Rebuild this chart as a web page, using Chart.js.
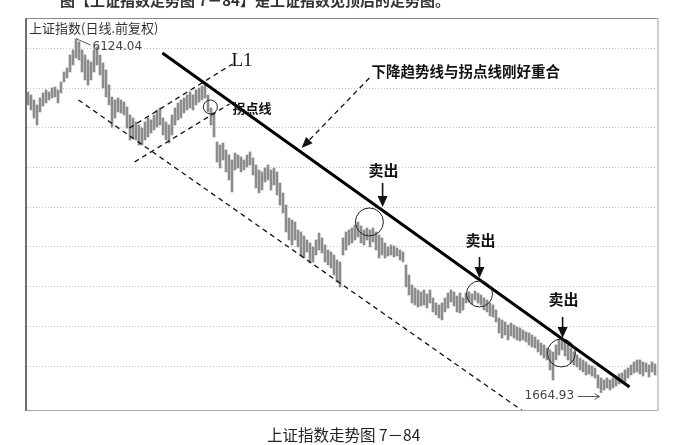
<!DOCTYPE html>
<html>
<head>
<meta charset="utf-8">
<script src="https://cdn.jsdelivr.net/npm/chart.js@4/dist/chart.umd.min.js"></script>
<style>
  html, body { margin: 0; padding: 0; background: #fff; }
  #chart { display: block; }
</style>
</head>
<body>
<canvas id="chart" width="680" height="445"></canvas>
<script>
// daily high / low of the Shanghai Composite (one value per session)
const highs = [
  5453, 5415, 5352, 5289, 5377, 5440, 5478, 5453, 5503, 5516,
  5478, 5579, 5705, 5755, 5919, 5982, 6124, 6083, 5982, 5919,
  5856, 5831, 5982, 6020, 5919, 5818, 5730, 5541, 5390, 5352,
  5377, 5352, 5327, 5264, 5163, 5125, 5075, 5037, 4999, 5075,
  5125, 5100, 5163, 5226, 5251, 5125, 5075, 5037, 5163, 5251,
  5314, 5352, 5377, 5415, 5453, 5415, 5478, 5503, 5528, 5541,
  5415, 5251, 5188, 4823, 4785, 4810, 4722, 4659, 4596, 4684,
  4659, 4634, 4596, 4659, 4697, 4621, 4533, 4470, 4445, 4495,
  4533, 4470, 4495, 4445, 4306, 4180, 4029, 3865, 3840, 3815,
  3714, 3689, 3638, 3588, 3550, 3500, 3588, 3676, 3613, 3525,
  3462, 3437, 3399, 3336, 3311, 3613, 3689, 3714, 3739, 3777,
  3815, 3764, 3714, 3739, 3714, 3739, 3689, 3651, 3613, 3550,
  3500, 3525, 3512, 3487, 3462, 3437, 3273, 3147, 3021, 2983,
  2958, 2933, 2958, 2908, 2958, 2857, 2794, 2769, 2794, 2857,
  2920, 2958, 2933, 2882, 2920, 2857, 2920, 2933, 2908, 2945,
  2920, 2895, 2857, 2832, 2794, 2769, 2706, 2605, 2580, 2555,
  2517, 2542, 2517, 2492, 2479, 2454, 2429, 2416, 2391, 2366,
  2328, 2290, 2265, 2227, 2202, 2177, 2265, 2328, 2353, 2328,
  2265, 2227, 2177, 2139, 2101, 2076, 2051, 2013, 2000, 1975,
  1887, 1849, 1824, 1849, 1824, 1849, 1874, 1900, 1912, 1950,
  1975, 2013, 2051, 2076, 2076, 2051, 2038, 2013, 2051, 2026
];
const lows = [
  5289, 5226, 5125, 5037, 5201, 5276, 5314, 5352, 5377, 5390,
  5314, 5440, 5579, 5629, 5705, 5793, 5881, 5856, 5705, 5604,
  5541, 5604, 5705, 5793, 5667, 5503, 5390, 5289, 5012, 5125,
  5201, 5188, 5163, 4999, 4848, 4873, 4848, 4785, 4785, 4848,
  4886, 4936, 4974, 5012, 5037, 4911, 4848, 4810, 4911, 5037,
  5100, 5125, 5188, 5226, 5251, 5226, 5289, 5327, 5352, 5377,
  5201, 5037, 4886, 4571, 4495, 4596, 4445, 4344, 4193, 4470,
  4495, 4445, 4470, 4508, 4533, 4407, 4243, 4180, 4218, 4319,
  4344, 4218, 4281, 4155, 4029, 3928, 3689, 3588, 3525, 3588,
  3500, 3386, 3361, 3437, 3298, 3311, 3399, 3462, 3424, 3311,
  3273, 3235, 3147, 3059, 2996, 3399, 3462, 3525, 3550, 3588,
  3626, 3550, 3525, 3588, 3500, 3563, 3462, 3361, 3399, 3361,
  3386, 3399, 3374, 3386, 3336, 3311, 2996, 2895, 2794, 2769,
  2744, 2756, 2769, 2731, 2794, 2681, 2643, 2605, 2580, 2681,
  2731, 2807, 2756, 2681, 2668, 2706, 2794, 2807, 2782, 2832,
  2794, 2769, 2706, 2681, 2630, 2618, 2555, 2416, 2353, 2391,
  2328, 2378, 2353, 2328, 2315, 2328, 2303, 2265, 2240, 2227,
  2177, 2139, 2101, 2076, 1950, 1824, 2076, 2139, 2202, 2126,
  2076, 2038, 2013, 1988, 1950, 1925, 1887, 1900, 1874, 1849,
  1723, 1665, 1698, 1723, 1698, 1723, 1748, 1774, 1786, 1799,
  1849, 1887, 1912, 1925, 1900, 1874, 1925, 1862, 1925, 1887
];

// horizontal grid levels
const gridLevels = [2000, 2500, 3000, 3500, 4000, 4500, 5000, 5500, 6000];

// drawn lines, as (session index, index level)
const trendL1 = [{ x: 44.8, y: 5944 }, { x: 200.5, y: 1736 }];
const channelLow = [{ x: 16.8, y: 5352 }, { x: 169.2, y: 1320 }];
const reboundTop = [{ x: 33.8, y: 4999 }, { x: 68.2, y: 5806 }];
const reboundBottom = [{ x: 35.5, y: 4571 }, { x: 67.2, y: 5302 }];
const pointerLine = [{ x: 113.8, y: 5629 }, { x: 91.2, y: 4747 }];

// marked spots
const circles = [
  { x: 60.8, y: 5264, r: 7 },
  { x: 113.8, y: 3815, r: 14 },
  { x: 150.5, y: 2908, r: 13 },
  { x: 177.8, y: 2164, r: 14 },
];
const sellArrows = [
  { x: 118.2, from: 4306, to: 4004, label: 4470 },
  { x: 150.5, from: 3374, to: 3109, label: 3588 },
  { x: 178.2, from: 2618, to: 2353, label: 2845 },
];

const CJK = '"Noto Sans CJK SC", "Noto Sans", sans-serif';

const candles = highs.map((h, i) => ({ x: i, y: [lows[i], h] }));

function dashedLine(data, width) {
  return {
    type: "line",
    data: data,
    borderColor: "#111",
    borderWidth: width,
    borderDash: [5, 4],
    pointRadius: 0,
    order: 1,
  };
}

function arrowHead(ctx, x0, y0, x1, y1, len, half) {
  const a = Math.atan2(y1 - y0, x1 - x0);
  const bx = x1 - len * Math.cos(a);
  const by = y1 - len * Math.sin(a);
  ctx.beginPath();
  ctx.moveTo(x1, y1);
  ctx.lineTo(bx + half * Math.sin(a), by - half * Math.cos(a));
  ctx.lineTo(bx - half * Math.sin(a), by + half * Math.cos(a));
  ctx.closePath();
  ctx.fill();
}

const overlay = {
  id: "overlay",
  afterDatasetsDraw(chart) {
    const { ctx, chartArea: a } = chart;
    const px = (v) => chart.scales.x.getPixelForValue(v);
    const py = (v) => chart.scales.y.getPixelForValue(v);
    ctx.save();

    // frame
    ctx.lineWidth = 1;
    ctx.strokeStyle = "#8a8a8a";
    ctx.beginPath(); ctx.moveTo(a.left, a.top + 0.5); ctx.lineTo(a.right, a.top + 0.5); ctx.stroke();
    ctx.strokeStyle = "#a8a8a8";
    ctx.beginPath(); ctx.moveTo(a.left, a.bottom + 0.5); ctx.lineTo(a.right, a.bottom + 0.5); ctx.stroke();
    ctx.lineWidth = 2;
    ctx.strokeStyle = "#6e6e6e";
    ctx.beginPath(); ctx.moveTo(a.left - 1, a.top); ctx.lineTo(a.left - 1, a.bottom + 1); ctx.stroke();
    ctx.strokeStyle = "#cfcfcf";
    ctx.beginPath(); ctx.moveTo(a.right + 1, a.top); ctx.lineTo(a.right + 1, a.bottom + 1); ctx.stroke();

    // circles
    ctx.lineWidth = 1;
    ctx.strokeStyle = "#222";
    circles.forEach((c) => {
      ctx.beginPath();
      ctx.arc(px(c.x), py(c.y), c.r, 0, Math.PI * 2);
      ctx.stroke();
    });

    // pointer from the note to L1
    ctx.fillStyle = "#111";
    const p0 = pointerLine[0], p1 = pointerLine[1];
    arrowHead(ctx, px(p0.x), py(p0.y), px(p1.x), py(p1.y), 11, 4.5);

    // sell arrows
    ctx.strokeStyle = "#111";
    ctx.lineWidth = 1.6;
    ctx.font = "bold 15px " + CJK;
    ctx.textAlign = "center";
    ctx.textBaseline = "middle";
    sellArrows.forEach((s) => {
      const x = px(s.x);
      ctx.beginPath();
      ctx.moveTo(x, py(s.from));
      ctx.lineTo(x, py(s.to) - 8);
      ctx.stroke();
      arrowHead(ctx, x, py(s.from), x, py(s.to), 11, 5);
      ctx.fillText("卖出", x + 1, py(s.label));
    });

    // notes
    ctx.textAlign = "left";
    ctx.font = '19px "Liberation Serif", serif';
    ctx.fillText("L1", px(67.8), py(5843));
    ctx.font = "bold 13px " + CJK;
    ctx.fillText("拐点线", px(68.2), py(5251));
    ctx.font = "bold 14.5px " + CJK;
    ctx.fillText("下降趋势线与拐点线刚好重合", px(114.5), py(5708));

    // extreme values
    ctx.fillStyle = "#444";
    ctx.strokeStyle = "#555";
    ctx.lineWidth = 1;
    ctx.font = '12px "DejaVu Sans", sans-serif';
    ctx.fillText("6124.04", px(21.5), py(6020));
    ctx.beginPath(); ctx.moveTo(px(16.2), py(6121)); ctx.lineTo(px(20.8), py(6045)); ctx.stroke();
    ctx.fillText("1664.93", px(165.5), py(1622));
    const ax0 = px(183.3), ax1 = px(190.5), ay = Math.round(py(1622)) + 0.5;
    ctx.beginPath();
    ctx.moveTo(ax0, ay); ctx.lineTo(ax1, ay);
    ctx.moveTo(ax1 - 5, ay - 3); ctx.lineTo(ax1, ay); ctx.lineTo(ax1 - 5, ay + 3);
    ctx.stroke();

    // series title
    ctx.fillStyle = "#333";
    ctx.font = "13px " + CJK;
    ctx.fillText("上证指数(日线.前复权)", a.left + 2, a.top + 10);
    ctx.restore();
  },
  afterDraw(chart) {
    const ctx = chart.ctx;
    ctx.save();
    ctx.fillStyle = "#333";
    ctx.textBaseline = "alphabetic";
    ctx.font = "bold 15px " + CJK;
    ctx.fillText("图【上证指数走势图 7－84】是上证指数见顶后的走势图。", 60, 6);
    ctx.fillStyle = "#222";
    ctx.font = "15.5px " + CJK;
    ctx.fillText("上证指数走势图 7－84", 267, 441);
    ctx.restore();
  },
};

new Chart(document.getElementById("chart"), {
  type: "bar",
  data: {
    datasets: [
      {
        type: "bar",
        data: candles,
        backgroundColor: "#8c8c8c",
        barThickness: 2,
        order: 2,
      },
      {
        type: "line",
        data: trendL1,
        borderColor: "#000",
        borderWidth: 3,
        pointRadius: 0,
        order: 0,
      },
      dashedLine(channelLow, 1.3),
      dashedLine(reboundTop, 1.3),
      dashedLine(reboundBottom, 1.3),
      dashedLine(pointerLine, 1.3),
    ],
  },
  options: {
    responsive: false,
    animation: false,
    layout: { padding: { left: 27, right: 23, top: 18, bottom: 35 } },
    plugins: { legend: { display: false }, tooltip: { enabled: false } },
    scales: {
      x: { type: "linear", min: -1 / 3, max: 210 - 1 / 3, offset: false, display: false, grid: { offset: false } },
      y: {
        min: 1445.6,
        max: 6384.8,
        ticks: { display: false },
        grid: { color: "#c4c4c4", drawTicks: false },
        border: { display: false, dash: [1, 2] },
        afterBuildTicks: (scale) => {
          scale.ticks = gridLevels.map((v) => ({ value: v }));
        },
      },
    },
  },
  plugins: [overlay],
});
</script>
</body>
</html>
